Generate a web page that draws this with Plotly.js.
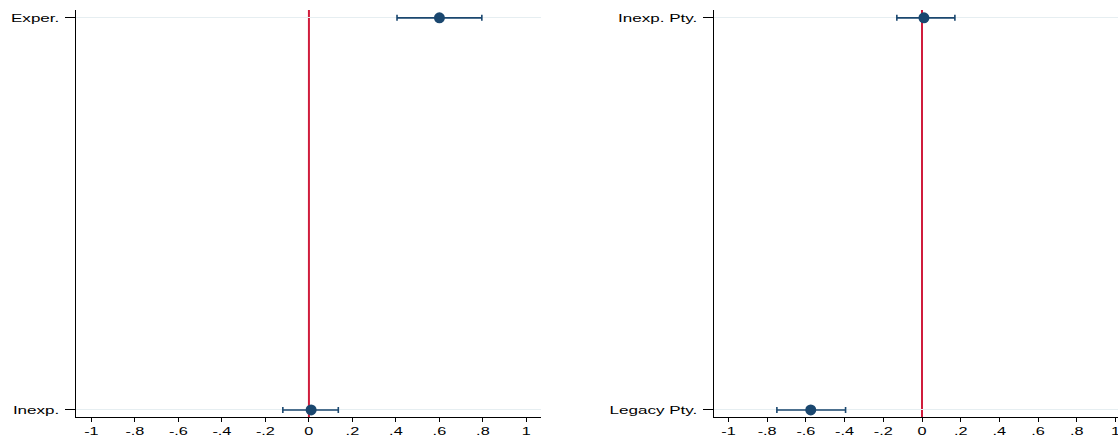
<!DOCTYPE html>
<html>
<head>
<meta charset="utf-8">
<script src="https://cdn.plot.ly/plotly-3.0.1.min.js"></script>
<style>
html,body{margin:0;padding:0;background:#fff;}
#chart{width:1118px;height:437px;}
</style>
</head>
<body>
<div id="chart"></div>
<script>
// Left panel
const leftCats = ["Inexp.", "Exper."];
const leftEst = [0.01, 0.60];
const leftLo = [-0.12, 0.405];
const leftHi = [0.135, 0.795];
// Right panel
const rightCats = ["Legacy Pty.", "Inexp. Pty."];
const rightEst = [-0.575, 0.01];
const rightLo = [-0.75, -0.13];
const rightHi = [-0.395, 0.17];
// X ticks
const xTickVals = [-1, -0.8, -0.6, -0.4, -0.2, 0, 0.2, 0.4, 0.6, 0.8, 1];
const xTickText = ["-1", "-.8", "-.6", "-.4", "-.2", "0", ".2", ".4", ".6", ".8", "1"];

const navy = "#1a476f";
const red = "#d01c3c";

function mkTrace(cats, est, lo, hi, xa, ya) {
  return {
    type: "scatter", mode: "markers",
    x: est, y: cats, xaxis: xa, yaxis: ya,
    marker: {color: navy, size: 11, symbol: "circle"},
    error_x: {
      type: "data", symmetric: false,
      array: hi.map((h, i) => h - est[i]),
      arrayminus: est.map((e, i) => e - lo[i]),
      color: navy, thickness: 1.6, width: 3
    },
    showlegend: false, hoverinfo: "x+y"
  };
}

const data = [
  mkTrace(leftCats, leftEst, leftLo, leftHi, "x", "y"),
  mkTrace(rightCats, rightEst, rightLo, rightHi, "x2", "y2")
];

const font = {family: "Liberation Sans, Arial, sans-serif", size: 11, color: "#000"};
const xfont = {family: "Liberation Sans, Arial, sans-serif", size: 10.5, color: "#000"};

function xAxis(domain, range, anchor) {
  return {
    domain: domain, range: range, anchor: anchor,
    tickmode: "array", tickvals: xTickVals, ticktext: xTickText,
    ticks: "outside", ticklen: 4, tickwidth: 1, tickcolor: "#000",
    showline: true, linecolor: "#000", linewidth: 1,
    showgrid: false, zeroline: false, tickfont: xfont, fixedrange: true,
    ticklabeloverflow: "allow", automargin: false
  };
}
function yAxis(cats, anchor) {
  return {
    type: "category", categoryorder: "array", categoryarray: cats,
    range: [-0.018, 1.02], anchor: anchor,
    ticks: "outside", ticklen: 10, tickwidth: 1, tickcolor: "#000",
    showline: true, linecolor: "#000", linewidth: 1.5,
    showgrid: true, gridcolor: "#e6eef1", gridwidth: 1,
    zeroline: false, tickfont: font, fixedrange: true, automargin: false,
    ticklabelstandoff: 3
  };
}

const layout = {
  width: 1118, height: 437,
  margin: {l: 0, r: 0, t: 10, b: 20},
  paper_bgcolor: "#fff", plot_bgcolor: "#fff",
  xaxis: xAxis([76/1118, 541/1118], [-1.071, 1.067], "y"),
  yaxis: yAxis(leftCats, "x"),
  xaxis2: xAxis([714/1118, 1], [-1.075, 1.013], "y2"),
  yaxis2: yAxis(rightCats, "x2"),
  shapes: [
    {type: "line", xref: "x", yref: "y domain", x0: 0, x1: 0, y0: 0, y1: 1, line: {color: red, width: 2}, layer: "below"},
    {type: "line", xref: "x2", yref: "y2 domain", x0: 0, x1: 0, y0: 0, y1: 1, line: {color: red, width: 2}, layer: "below"}
  ],
  font: font
};

Plotly.newPlot("chart", data, layout, {displayModeBar: false, staticPlot: true}).then(function () {
  // widen tick label glyphs horizontally (the reference uses a stretched face)
  document.querySelectorAll("#chart .xtick text, #chart .x2tick text, #chart .ytick text, #chart .y2tick text").forEach(function (t) {
    const b = t.getBBox();
    const anchor = t.getAttribute("text-anchor");
    const px = anchor === "end" ? b.x + b.width : (anchor === "start" ? b.x : b.x + b.width / 2);
    const tr = t.getAttribute("transform") || "";
    t.setAttribute("transform", tr + " translate(" + px + ",0) scale(1.55,1) translate(" + (-px) + ",0)");
  });
});
</script>
</body>
</html>
